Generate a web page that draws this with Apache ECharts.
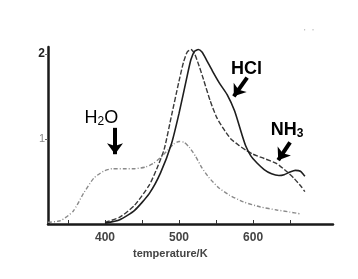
<!DOCTYPE html>
<html>
<head>
<meta charset="utf-8">
<script src="https://cdn.jsdelivr.net/npm/echarts@6/dist/echarts.min.js"></script>
<style>
html,body{margin:0;padding:0;background:#fff;}
#c{width:358px;height:279px;}
</style>
</head>
<body>
<div id="c"></div>
<script>
// ---- data (temperature K, signal) ----
const hclT = [400,420,440,460,475,490,500,510,516,521,526,531,537,545,555,565,575,585,590,597,605,615,625,635,642,650,657,664,670];
const hclV = [0.01,0.05,0.16,0.36,0.6,0.95,1.3,1.7,1.93,2.03,2.05,2.02,1.93,1.8,1.65,1.52,1.33,1.05,0.92,0.8,0.72,0.64,0.59,0.57,0.58,0.61,0.63,0.62,0.56];
const nh3T = [400,420,440,460,470,480,490,500,506,511,516,521,527,533,542,551,560,570,580,590,600,615,632,645,655,665,670];
const nh3V = [0.02,0.08,0.22,0.46,0.65,0.88,1.28,1.68,1.9,2.02,2.05,2.0,1.86,1.7,1.45,1.25,1.12,1.0,0.93,0.87,0.82,0.77,0.71,0.62,0.54,0.44,0.38];
const h2oT = [323,340,357,371,385,398,410,425,440,455,465,475,485,493,500,507,514,522,531,540,553,568,587,610,632,650,663];
const h2oV = [0.02,0.04,0.15,0.36,0.54,0.62,0.65,0.65,0.65,0.67,0.71,0.78,0.87,0.94,0.97,0.96,0.9,0.8,0.66,0.55,0.43,0.34,0.26,0.2,0.165,0.14,0.12];
const xTicks = [350,400,450,500,550,600,650];
const xLabels = [400,500,600];
const yLabels = [1,2];
// annotation anchors (data space): label centre, arrow start, arrow tip
const h2oNote = {label:[395,1.25], from:[413.5,1.13], to:[413.5,0.82]};
const hclNote = {label:[591,1.82], from:[592,1.72], to:[574,1.50]};
const nh3Note = {label:[646,1.11], from:[650,0.96], to:[634,0.75]};

const zip = (a,b) => a.map((t,i)=>[t,b[i]]);
const FONT = 'Liberation Sans, Arial, sans-serif';

function arrow(n){
  return {
    silent:true, symbol:['none','arrow'], symbolSize:[12,11],
    lineStyle:{color:'#000',width:4,type:'solid'},
    label:{show:false},
    data:[[{coord:n.from},{coord:n.to}]]
  };
}

const chart = echarts.init(document.getElementById('c'), null, {renderer:'canvas'});
chart.setOption({
  animation:false,
  backgroundColor:'#fff',
  grid:{left:48,right:25,top:47,bottom:55,containLabel:false},
  xAxis:{
    type:'value', min:323, max:708,
    axisLine:{show:true,lineStyle:{color:'#1a1a1a',width:2.5}},
    axisTick:{show:true,inside:true,length:4,customValues:xTicks,lineStyle:{color:'#333',width:1}},
    axisLabel:{customValues:xLabels,margin:8,color:'#444',fontSize:12,fontWeight:'bold',fontFamily:FONT},
    splitLine:{show:false}
  },
  yAxis:{
    type:'value', min:0, max:2.08,
    axisLine:{show:true,lineStyle:{color:'#1a1a1a',width:2.5}},
    axisTick:{show:true,inside:false,length:3,customValues:yLabels,lineStyle:{color:'#666',width:1}},
    axisLabel:{customValues:yLabels,margin:3,fontSize:11,fontFamily:FONT,
      formatter:v => v===2 ? '{d|2}' : '{g|1}',
      rich:{d:{color:'#222',fontWeight:'bold',fontSize:12},g:{color:'#888',fontSize:11}}},
    splitLine:{show:false}
  },
  series:[
    {name:'H2O',type:'line',data:zip(h2oT,h2oV),smooth:0.2,showSymbol:false,
      lineStyle:{color:'#8a8a8a',width:1.4,type:[4,2,1,2]},
      markLine:arrow(h2oNote)},
    {name:'NH3',type:'line',data:zip(nh3T,nh3V),smooth:0.2,showSymbol:false,
      lineStyle:{color:'#3a3a3a',width:1.4,type:[5,2]},
      markLine:arrow(nh3Note)},
    {name:'HCl',type:'line',data:zip(hclT,hclV),smooth:0.2,showSymbol:false,
      lineStyle:{color:'#1e1e1e',width:1.6,type:'solid'},
      markLine:arrow(hclNote)}
  ]
});

function px(p){ return chart.convertToPixel({gridIndex:0}, p); }
function labelText(n, rich, fmt){
  const p = px(n.label);
  return {type:'text', x:p[0], y:p[1], silent:true,
    style:{text:fmt, rich:rich, align:'center', verticalAlign:'middle'}};
}
const richNormal = {
  a:{fontFamily:FONT,fontSize:18,fill:'#000',fontWeight:'normal'},
  s:{fontFamily:FONT,fontSize:12,fill:'#000',padding:[9,0,0,0]}
};
const richBold = {
  a:{fontFamily:FONT,fontSize:18,fill:'#000',fontWeight:'bold'},
  s:{fontFamily:FONT,fontSize:12,fill:'#000',fontWeight:'bold',padding:[9,0,0,0]}
};
chart.setOption({
  graphic:[
    {type:'text',left:133,top:248,style:{text:'temperature/K',fill:'#444',font:'bold 11px '+FONT}},
    {type:'text',left:304,top:28,style:{text:"'   '",fill:'#999',font:'8px sans-serif'}},
    labelText(h2oNote, richNormal, '{a|H}{s|2}{a|O}'),
    labelText(hclNote, richBold, '{a|HCl}'),
    labelText(nh3Note, richBold, '{a|NH}{s|3}')
  ]
});
</script>
</body>
</html>
